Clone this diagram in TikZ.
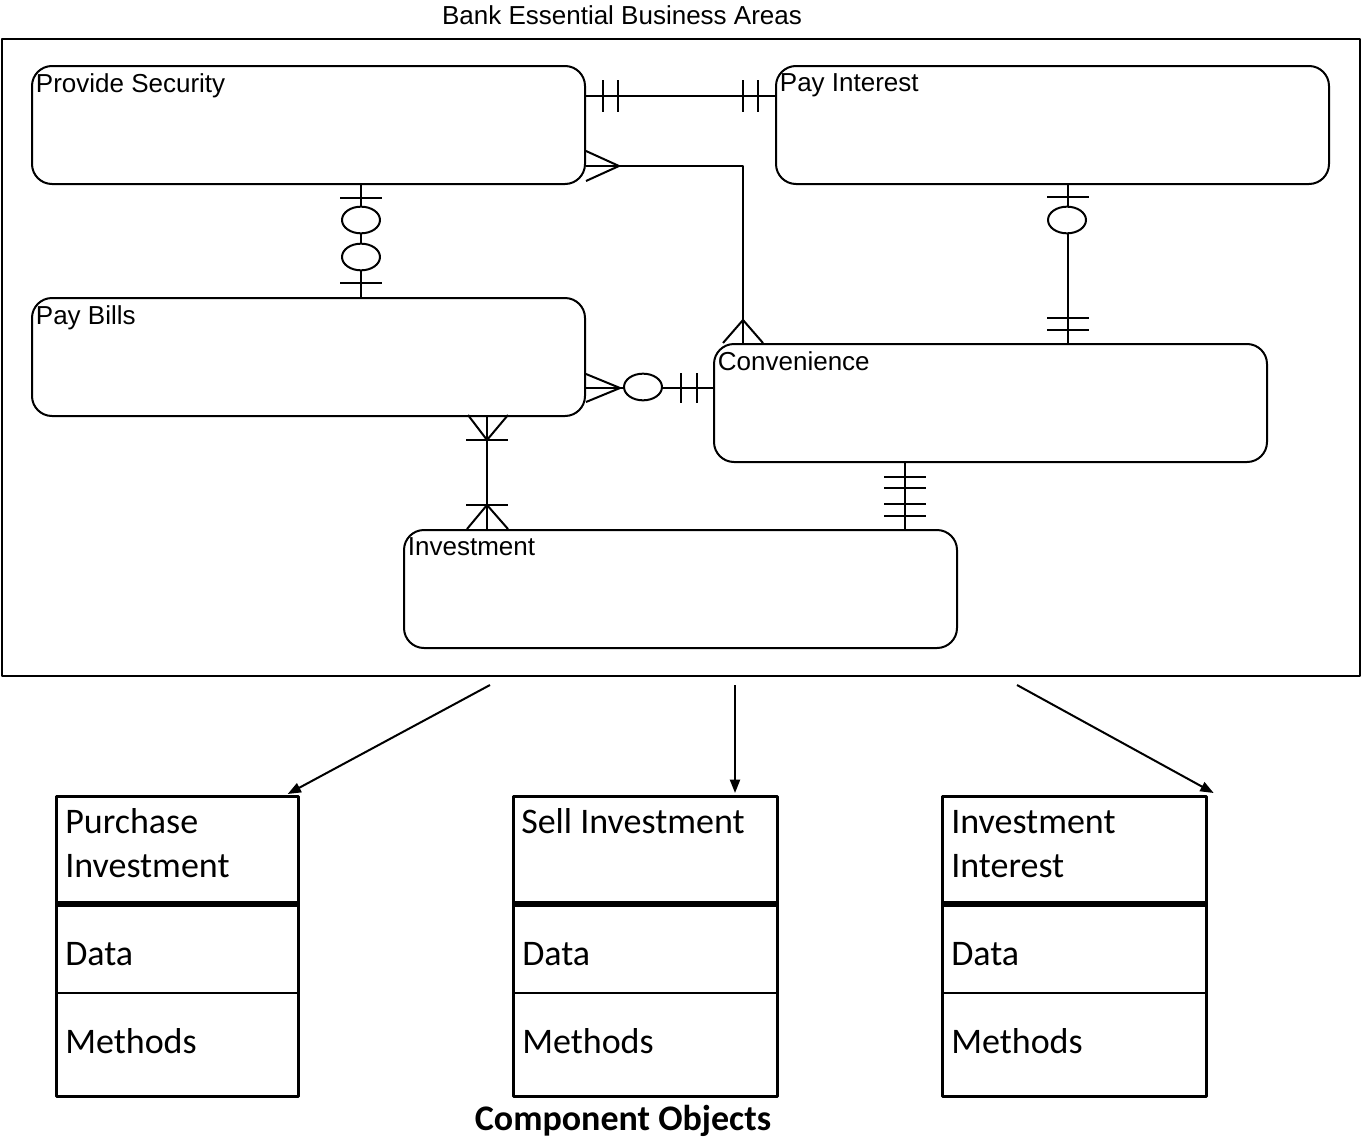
\documentclass[tikz,border=0pt]{standalone}
\usepackage{fontspec}
\setmainfont{Liberation Sans}
\newfontfamily\calibri{Carlito}
\usetikzlibrary{calc,arrows.meta,positioning}

\begin{document}
\begin{tikzpicture}[x=0.75pt, y=-0.75pt, line join=bevel]
    \tikzset{%
      er/.style        = {line width=1.5pt},
      area/.style      = {draw, rectangle, rounded corners=15pt, line width=1.5pt,
                          minimum width=553*0.75pt, minimum height=118*0.75pt,
                          anchor=north west, inner sep=0pt},
      areatext/.style  = {font=\fontsize{19.5}{23}\selectfont},
      arealabel/.style = {label={[areatext, anchor=north west, inner sep=0pt,
                          xshift=3.5pt, yshift=-6.5pt]north west:#1}},
      comp/.style      = {draw, rectangle, line width=2pt, anchor=north west,
                          minimum height=300*0.75pt, inner sep=0pt},
      comptext/.style  = {font=\calibri\fontsize{27}{33}\selectfont,
                          anchor=base west, inner sep=0pt, align=left},
      flow/.style      = {line width=1.5pt, -{Triangle[length=10pt,width=7.5pt]}}
    }
    \useasboundingbox (0,0) rectangle (1363,1142);

    % business areas
    \node[areatext, anchor=base] (title) at (622,24) {Bank Essential Business Areas};
    \node[draw, er, anchor=north west, inner sep=0pt,
          minimum width=1358*0.75pt, minimum height=637*0.75pt] (bank) at (1,38) {};

    \node[area, arealabel={Provide Security}] (security)    at (31,65)   {};
    \node[area, arealabel={Pay Interest}]     (interest)    at (775,65)  {};
    \node[area, arealabel={Pay Bills}]        (bills)       at (31,297)  {};
    \node[area, arealabel={Convenience}]      (convenience) at (713,343) {};
    \node[area, arealabel={Investment}]       (investment)  at (403,529) {};

    % relationships
    \draw[er] ($(security.north east)+(0,31)$) -- ($(interest.north west)+(0,31)$);
    \foreach \x in {603,618,743,758}
      \draw[er] (\x,80) -- (\x,112);

    \draw[er] ($(security.north east)+(0,101)$) -| ($(convenience.north west)+(30,0)$);
    \draw[er] (586,151) -- (619,166) -- (586,181);
    \draw[er] (723,343) -- (743,320) -- (763,343);

    \draw[er] ($(security.south west)+(330,0)$) -- ($(bills.north west)+(330,0)$);
    \draw[er] ($(interest.south west)+(293,0)$) -- ($(convenience.north west)+(355,0)$);
    \draw[er] ($(bills.north east)+(0,91)$) -- ($(convenience.north west)+(0,45)$);
    \draw[er] ($(bills.south west)+(456,0)$) -- ($(investment.north west)+(84,0)$);
    \draw[er] ($(convenience.south west)+(192,0)$) -- ($(investment.north west)+(502,0)$);

    \foreach \x/\y in {361/198, 361/283, 1068/197, 1068/318, 1068/330, 487/440, 487/505,
                       905/477, 905/488, 905/504, 905/516}
      \draw[er] (\x-21,\y) -- (\x+21,\y);
    \foreach \x in {681,697}
      \draw[er] (\x,373) -- (\x,403);
    \foreach \x/\y in {361/220, 361/257, 1067/220, 643/387}
      \draw[er, fill=white] (\x,\y) ellipse [x radius=14.25pt, y radius=10pt];

    \draw[er] (586,374) -- (620,388) -- (586,402);
    \draw[er] (468,415) -- (487,440) -- (508,415);
    \draw[er] (467,529) -- (487,505) -- (508,529);

    % component objects
    \node[comp, minimum width=242*0.75pt] (purchase) at (55,795)  {};
    \node[comp, minimum width=264*0.75pt] (sell)     at (512,795) {};
    \node[comp, minimum width=264*0.75pt] (yield)    at (941,795) {};

    \foreach \obj in {purchase, sell, yield}{
      \draw[line width=4pt]    ($(\obj.north west)+(2,109)$) -- ($(\obj.north east)+(-2,109)$);
      \draw[line width=2.2pt]  ($(\obj.north west)+(0,198)$) -- ($(\obj.north east)+(0,198)$);
      \node[comptext] (\obj data)    at ($(\obj.north west)+(10,170)$) {Data};
      \node[comptext] (\obj methods) at ($(\obj.north west)+(10,258)$) {Methods};
    }
    % base of a two-line node is its last line
    \node[comptext] (purchasename) at ($(purchase.north west)+(10,82)$) {Purchase\\Investment};
    \node[comptext] (sellname)     at ($(sell.north west)+(9,38)$)      {Sell Investment};
    \node[comptext] (yieldname)    at ($(yield.north west)+(10,82)$)    {Investment\\Interest};

    \coordinate (from1) at (490,685);
    \coordinate (from2) at (735,685);
    \coordinate (from3) at (1017,685);
    \draw[flow] (from1) -- ($(purchase.north east)+(-12,-1)$);
    \draw[flow] (from2) -- ($(sell.north west)+(223,-2)$);
    \draw[flow] (from3) -- ($(yield.north east)+(6,-2)$);

    \node[font=\calibri\bfseries\fontsize{27}{33}\selectfont, anchor=base]
      (caption) at (623,1130) {Component Objects};
\end{tikzpicture}
\end{document}
